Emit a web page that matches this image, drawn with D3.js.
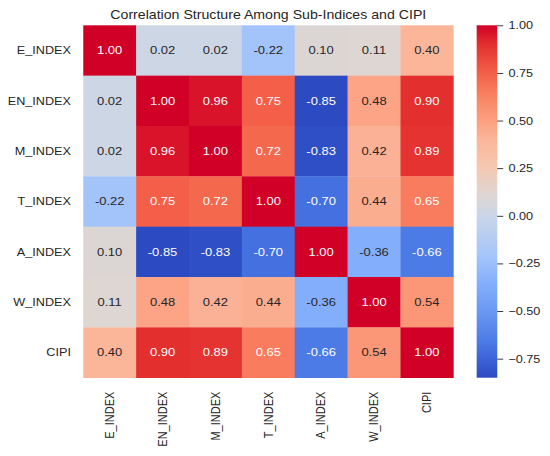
<!DOCTYPE html>
<html>
<head>
<meta charset="utf-8">
<script src="https://cdn.jsdelivr.net/npm/d3@7"></script>
<style>
  html, body { margin: 0; padding: 0; background: #fff; }
  svg { display: block; }
  text { font-family: "Liberation Sans", Arial, sans-serif; fill: #262626; }
</style>
</head>
<body>
<svg id="chart"></svg>
<script>
// the reference picture is stretched sideways, so draw in a narrower box and let the svg stretch it
const STRETCH = 1.15;
const W = 550, H = 456;
const VW = W / STRETCH;

const labels = ['E_INDEX', 'EN_INDEX', 'M_INDEX', 'T_INDEX', 'A_INDEX', 'W_INDEX', 'CIPI'];

const rowE = [1.00, 0.02, 0.02, -0.22, 0.10, 0.11, 0.40];
const rowEN = [0.02, 1.00, 0.96, 0.75, -0.85, 0.48, 0.90];
const rowM = [0.02, 0.96, 1.00, 0.72, -0.83, 0.42, 0.89];
const rowT = [-0.22, 0.75, 0.72, 1.00, -0.70, 0.44, 0.65];
const rowA = [0.10, -0.85, -0.83, -0.70, 1.00, -0.36, -0.66];
const rowW = [0.11, 0.48, 0.42, 0.44, -0.36, 1.00, 0.54];
const rowCIPI = [0.40, 0.90, 0.89, 0.65, -0.66, 0.54, 1.00];

const colorbarTicks = [1.00, 0.75, 0.50, 0.25, 0.00, -0.25, -0.50, -0.75];

const title = 'Correlation Structure Among Sub-Indices and CIPI';

// coolwarm as it looks in the picture (a bit brighter than matplotlib's)
const stopValues = [-0.85, -0.75, -0.66, -0.50, -0.36, -0.22, 0.00, 0.11, 0.25, 0.40, 0.50, 0.60, 0.75, 0.90, 1.00];
const stopColors = ['#2c4ac2', '#3d63d8', '#4c7be6', '#6b98f3', '#83aefc', '#a3c4fb', '#cad6e8', '#ddd6d2',
  '#f5c8b2', '#fbb69a', '#fc9f80', '#fa8a68', '#f35f48', '#e3302f', '#d10026'];

const rows = [rowE, rowEN, rowM, rowT, rowA, rowW, rowCIPI];
const cells = rows.flatMap((r, i) => r.map((v, j) => ({ row: labels[i], col: labels[j], value: v })));

const MAP = { left: 72.4, right: 394.2, top: 25.3, bottom: 377.7 };
const BAR = { left: 414.5, right: 432.4 };
const VMIN = -0.85, VMAX = 1.0;

const svg = d3.select('#chart')
  .attr('width', W)
  .attr('height', H)
  .attr('viewBox', `0 0 ${VW} ${H}`)
  .attr('preserveAspectRatio', 'none');

const x = d3.scaleBand().domain(labels).range([MAP.left, MAP.right]);
const y = d3.scaleBand().domain(labels).range([MAP.top, MAP.bottom]);

const color = d3.scaleLinear()
  .domain(stopValues)
  .range(stopColors)
  .interpolate(d3.interpolateRgb)
  .clamp(true);

function luminance(c) {
  const rgb = d3.rgb(c);
  const lin = [rgb.r, rgb.g, rgb.b].map(u => {
    u /= 255;
    return u <= 0.03928 ? u / 12.92 : Math.pow((u + 0.055) / 1.055, 2.4);
  });
  return 0.2126 * lin[0] + 0.7152 * lin[1] + 0.0722 * lin[2];
}

// cells
const cell = svg.append('g').selectAll('g')
  .data(cells)
  .enter()
  .append('g');

cell.append('rect')
  .attr('x', d => x(d.col))
  .attr('y', d => y(d.row))
  .attr('width', x.bandwidth() + 0.3)
  .attr('height', y.bandwidth() + 0.3)
  .attr('fill', d => color(d.value));

cell.append('text')
  .attr('x', d => x(d.col) + x.bandwidth() / 2)
  .attr('y', d => y(d.row) + y.bandwidth() / 2)
  .attr('text-anchor', 'middle')
  .attr('dominant-baseline', 'central')
  .attr('font-size', 11.3)
  .style('fill', d => (luminance(color(d.value)) > 0.408 ? '#262626' : '#ffffff'))
  .text(d => d.value.toFixed(2));

// row labels
svg.append('g').selectAll('text')
  .data(labels)
  .enter()
  .append('text')
  .attr('x', MAP.left - 10.7)
  .attr('y', d => y(d) + y.bandwidth() / 2)
  .attr('text-anchor', 'end')
  .attr('dominant-baseline', 'central')
  .attr('font-size', 11)
  .text(d => d);

// column labels, turned to read upwards
svg.append('g').selectAll('text')
  .data(labels)
  .enter()
  .append('text')
  .attr('transform', d => `translate(${x(d) + x.bandwidth() / 2},${MAP.bottom + 14})rotate(-90)`)
  .attr('text-anchor', 'end')
  .attr('dominant-baseline', 'central')
  .attr('font-size', 11)
  .text(d => d);

// title
svg.append('text')
  .attr('x', (MAP.left + MAP.right) / 2)
  .attr('y', 19.2)
  .attr('text-anchor', 'middle')
  .attr('font-size', 12.3)
  .text(title);

// colorbar
const cb = d3.scaleLinear().domain([VMIN, VMAX]).range([MAP.bottom, MAP.top]);

const grad = svg.append('defs').append('linearGradient')
  .attr('id', 'cbar')
  .attr('x1', 0).attr('y1', 1)
  .attr('x2', 0).attr('y2', 0);

grad.selectAll('stop')
  .data(stopValues)
  .enter()
  .append('stop')
  .attr('offset', d => (d - VMIN) / (VMAX - VMIN))
  .attr('stop-color', d => color(d));

svg.append('rect')
  .attr('x', BAR.left)
  .attr('y', cb(VMAX))
  .attr('width', BAR.right - BAR.left)
  .attr('height', cb(VMIN) - cb(VMAX))
  .attr('fill', 'url(#cbar)');

const axis = svg.append('g')
  .attr('transform', `translate(${BAR.right},0)`)
  .call(d3.axisRight(cb)
    .tickValues(colorbarTicks)
    .tickSize(5.2)
    .tickPadding(4.5)
    .tickFormat(d3.format('.2f')));

axis.select('.domain').remove();
axis.selectAll('.tick line').attr('stroke', '#262626').attr('stroke-width', 0.9);
axis.selectAll('.tick text')
  .attr('font-size', 11)
  .attr('font-family', '"Liberation Sans", Arial, sans-serif')
  .attr('fill', '#262626');
</script>
</body>
</html>
